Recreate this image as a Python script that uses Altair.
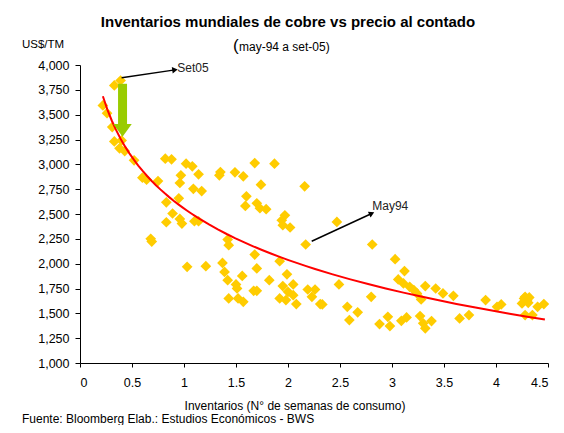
import altair as alt
import pandas as pd

# ---- data ----
inv = [0.33, 0.39, 0.22, 0.26, 0.31, 0.33, 0.40, 0.38, 0.43, 0.52, 0.60, 0.64, 0.75, 0.82, 0.88,
       1.02, 1.08, 0.97, 0.96, 1.14, 1.09, 1.17, 0.83, 0.95, 0.89, 0.96, 0.98, 0.83, 1.10, 1.14,
       0.68, 0.69, 1.03, 1.21,
       1.68, 1.87, 1.35, 1.34, 1.49, 1.57, 1.74, 2.16, 1.60, 1.59, 1.70, 1.73, 1.79, 1.97, 1.94,
       1.95, 2.02, 2.17, 1.42, 1.43, 1.68, 1.37, 1.39, 1.70, 1.92, 1.42, 1.56, 1.50, 1.51, 1.43,
       1.52, 1.57, 1.67, 1.70, 1.82, 1.99, 1.95, 2.05, 2.00, 2.05, 1.92, 1.98, 2.08, 2.19, 2.26,
       2.23, 2.31,
       2.47, 2.81, 3.03, 3.12, 3.06, 3.11, 3.17, 3.21, 3.24, 3.32, 2.49, 2.80, 2.33, 2.57, 2.67,
       2.59, 2.88, 2.96, 2.98, 3.09, 3.14, 3.27, 3.30, 3.32, 3.42, 3.49, 3.59, 3.90, 4.01, 4.05,
       4.28, 4.25, 4.31, 4.40, 4.46, 4.28, 4.35, 3.65, 3.74, 3.38, 3.28, 4.30, 4.27, 4.32]
price = [3794, 3844, 3593, 3515, 3375, 3231, 3241, 3161, 3134, 3040, 2866, 2846, 2832, 3057, 3050,
         3007, 2980, 2889, 2812, 2899, 2754, 2731, 2618, 2658, 2505, 2450, 2404, 2417, 2427, 2427,
         2250, 2222, 1968, 1975,
         3013, 3007, 2922, 2889, 2920, 2879, 2795, 2779, 2678, 2581, 2608, 2558, 2548, 2487, 2437,
         2387, 2364, 2193, 2243, 2186, 2092, 2007, 1917, 1952, 2025, 1834, 1877, 1791, 1751, 1650,
         1650, 1616, 1727, 1727, 1834, 1893, 1774, 1791, 1717, 1683, 1650, 1633, 1593, 1740, 1740,
         1666, 1593,
         2420, 2193, 2045, 1925, 1841, 1801, 1767, 1734, 1700, 1774, 1791, 1666, 1590, 1566, 1510,
         1432, 1392, 1465, 1372, 1425, 1459, 1472, 1399, 1349, 1750, 1700, 1676, 1633, 1566, 1590,
         1666, 1600, 1606, 1566, 1593, 1482, 1482, 1449, 1482, 1422, 1640, 1633, 1650, 1660]

x_ticks = [0, 0.5, 1, 1.5, 2, 2.5, 3, 3.5, 4, 4.5]
y_ticks = [1000, 1250, 1500, 1750, 2000, 2250, 2500, 2750, 3000, 3250, 3500, 3750, 4000]

# annotations (black arrows with labels)
arrow_inv = [0.40, 2.228]
arrow_price = [3872, 2226]
arrow_inv2 = [0.913, 2.805]
arrow_price2 = [3951, 2505]
arrow_angle = [352, 335]
label_inv = [0.935, 2.81]
label_price = [3965, 2578]
label_text = ["Set05", "May94"]

# green arrow
green_inv = [0.409]
green_top = [3811]
green_bottom = [3400]
green_head = [3342]

FONT = "Liberation Sans Narrow, Arial Narrow, Liberation Sans, Arial, sans-serif"

pts = pd.DataFrame({"inv": inv, "price": price})
arrows = pd.DataFrame({"inv": arrow_inv, "price": arrow_price, "inv2": arrow_inv2,
                       "price2": arrow_price2, "ang": arrow_angle})
labels = pd.DataFrame({"inv": label_inv, "price": label_price, "txt": label_text})
green = pd.DataFrame({"inv": green_inv, "price": green_top, "price2": green_bottom,
                      "head": green_head})

xs = alt.Scale(domain=[0, 4.5], nice=False, zero=False)
ys = alt.Scale(domain=[1000, 4000], nice=False, zero=False)

xaxis = alt.Axis(values=x_ticks, format="~g", title=None, grid=False, domainColor="black",
                 tickColor="black", tickSize=4, labelPadding=9, labelFont=FONT,
                 labelFontSize=12.5, labelColor="black", labelAngle=0)
yaxis = alt.Axis(values=y_ticks, format=",.0f", title=None, grid=False, domainColor="black",
                 tickColor="black", tickSize=5, labelPadding=6, labelFont=FONT,
                 labelFontSize=12.5, labelColor="black")

X = alt.X("inv:Q", scale=xs, axis=xaxis)
Y = alt.Y("price:Q", scale=ys, axis=yaxis)

points = alt.Chart(pts).mark_point(shape="diamond", filled=True, size=115, color="#FFCC00",
                                   opacity=1, strokeWidth=0).encode(x=X, y=Y)

trend = alt.Chart(pts).transform_regression(
    "inv", "price", method="log", extent=[0.22, 4.47]
).mark_line(color="#FF0000", strokeWidth=2).encode(x=X, y=Y)

arrow_lines = alt.Chart(arrows).mark_rule(color="black", strokeWidth=1.5).encode(
    x=X, y=Y, x2="inv2:Q", y2="price2:Q")
arrow_heads = alt.Chart(arrows).mark_point(shape="triangle-right", filled=True, size=40,
                                           color="black", opacity=1).encode(
    x=alt.X("inv2:Q", scale=xs, axis=xaxis), y=alt.Y("price2:Q", scale=ys, axis=yaxis),
    angle=alt.Angle("ang:Q", scale=None))
arrow_text = alt.Chart(labels).mark_text(align="left", baseline="middle", font=FONT,
                                         fontSize=12, color="#222222").encode(
    x=X, y=Y, text="txt:N")

green_shaft = alt.Chart(green).mark_rule(color="#99CC00", strokeWidth=9).encode(
    x=X, y=Y, y2="price2:Q")
green_tip = alt.Chart(green).mark_point(shape="M-1,-0.7L1,-0.7L0,0.7Z", filled=True, size=340,
                                        color="#99CC00", opacity=1, strokeWidth=0).encode(
    x=X, y=alt.Y("head:Q", scale=ys, axis=yaxis))

one = pd.DataFrame({"k": [0]})


def txt(s, x, y, size=13, bold=False, align="left"):
    return alt.Chart(one).mark_text(align=align, baseline="alphabetic", font=FONT,
                                    fontSize=size, fontWeight="bold" if bold else "normal",
                                    color="black").encode(
        x=alt.value(x), y=alt.value(y), text=alt.value(s))


title = txt("Inventarios mundiales de cobre vs precio al contado", 208, -38, size=15,
            bold=True, align="center")
paren = txt("(", 153, -14, size=17)
subtitle = txt("may-94 a set-05)", 159, -14, size=12)
units = txt("US$/TM", -58, -17, size=11.5)
xtitle = txt("Inventarios (N° de semanas de consumo)", 215, 345, size=12, align="center")
source = txt("Fuente: Bloomberg Elab.: Estudios Económicos - BWS", -58, 358, size=12)

chart = alt.layer(
    points, trend, green_shaft, green_tip, arrow_lines, arrow_heads, arrow_text,
    title, paren, subtitle, units, xtitle, source
).properties(
    width=468, height=298,
    autosize=alt.AutoSizeParams(type="none"),
    padding={"left": 72, "top": 57, "right": 8, "bottom": 62},
    background="white",
).configure_view(stroke=None)

chart.save("out.html", embed_options={"renderer": "svg", "actions": False})
